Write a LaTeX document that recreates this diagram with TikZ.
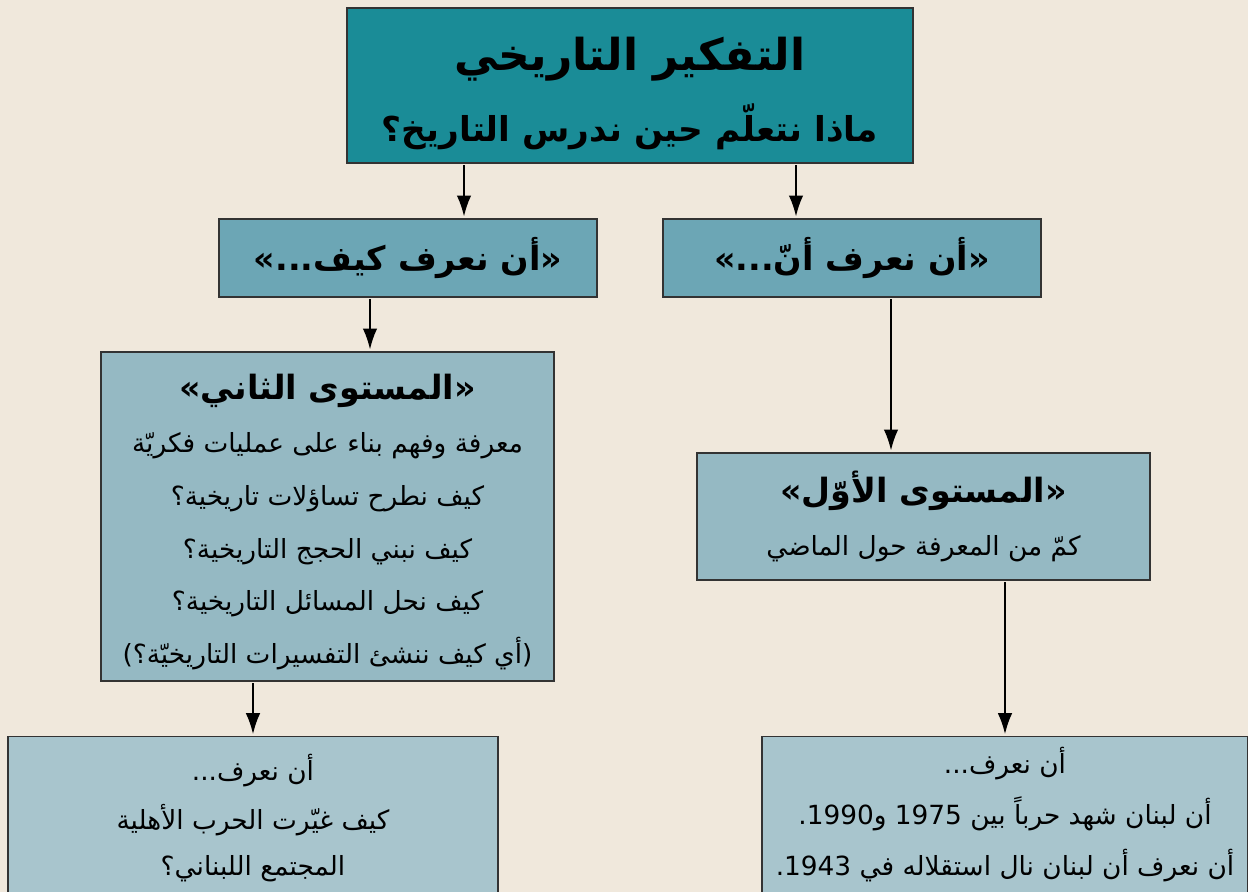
\documentclass[tikz,border=0pt]{standalone}
\usepackage{fontspec}
\newfontfamily\arabicfont[Script=Arabic]{DejaVu Sans}
\TeXXeTstate=1
\usetikzlibrary{arrows.meta}
\newcommand{\artxt}[1]{\beginR #1\endR}
\definecolor{bgpaper}{HTML}{F0E8DC}
\definecolor{tealtop}{HTML}{1A8C97}
\definecolor{bluemid}{HTML}{6CA6B5}
\definecolor{bluelow}{HTML}{95B9C3}
\definecolor{bluebase}{HTML}{A8C5CD}

\begin{document}
\begin{tikzpicture}[
    box/.style={draw=black!80, line width=0.8pt, align=center, inner sep=0pt},
    bodytext/.style={font=\arabicfont\fontsize{15}{30}\selectfont},
    arr/.style={-{Latex[length=4.2mm,width=2.9mm]}, line width=1.1pt, shorten <=1pt, shorten >=1pt},
]
    \clip (0,0) rectangle (24.96,-17.84);
    \fill[bgpaper] (0,0) rectangle (24.96,-17.84);

    % top of the chart
    \node[box, fill=tealtop, minimum width=11.32cm, minimum height=3.1cm,
          font=\arabicfont\bfseries\fontsize{25}{40}\selectfont] (top) at (12.6,-1.71)
        {\rule{0pt}{28pt}\artxt{التفكير التاريخي}\\[0pt]
         {\fontsize{19.5}{30}\selectfont\artxt{ماذا نتعلّم حين ندرس التاريخ؟}}};

    % second row
    \node[box, fill=bluemid, minimum width=7.56cm, minimum height=1.56cm,
          font=\arabicfont\bfseries\fontsize{19}{24}\selectfont] (lk) at (8.16,-5.16)
        {\artxt{«أن نعرف كيف...»}};
    \node[box, fill=bluemid, minimum width=7.56cm, minimum height=1.56cm,
          font=\arabicfont\bfseries\fontsize{19}{24}\selectfont] (rk) at (17.04,-5.16)
        {\artxt{«أن نعرف أنّ...»}};

    % the two levels
    \node[box, bodytext, fill=bluelow, minimum width=9.06cm, minimum height=6.58cm] (l2) at (6.55,-10.33)
        {{\bfseries\fontsize{19}{24}\selectfont\rule{0pt}{21pt}\artxt{«المستوى الثاني»}}\\
         \artxt{معرفة وفهم بناء على عمليات فكريّة}\\
         \artxt{كيف نطرح تساؤلات تاريخية؟}\\
         \artxt{كيف نبني الحجج التاريخية؟}\\
         \artxt{كيف نحل المسائل التاريخية؟}\\
         \artxt{(أي كيف ننشئ التفسيرات التاريخيّة؟)}};
    \node[box, bodytext, fill=bluelow, minimum width=9.06cm, minimum height=2.54cm] (r1) at (18.47,-10.33)
        {{\bfseries\fontsize{19}{24}\selectfont\artxt{«المستوى الأوّل»}}\\
         \artxt{كمّ من المعرفة حول الماضي}};

    % examples at the bottom
    \node[box, bodytext, fill=bluebase, minimum width=9.8cm, minimum height=3.24cm, anchor=north] (lb) at (5.06,-14.72)
        {\artxt{أن نعرف...}\\[-2pt]
         \artxt{كيف غيّرت الحرب الأهلية}\\[-4pt]
         \artxt{المجتمع اللبناني؟}};
    \node[box, bodytext, fill=bluebase, minimum width=9.72cm, minimum height=3.12cm, anchor=north] (rb) at (20.1,-14.72)
        {\artxt{أن نعرف...}\\[-1pt]
         \artxt{أن لبنان شهد حرباً بين 1975 و1990.}\\[-1pt]
         \artxt{أن نعرف أن لبنان نال استقلاله في 1943.}};

    \draw[arr] ([xshift=1.12cm]lk.north |- top.south) -- ([xshift=1.12cm]lk.north);
    \draw[arr] ([xshift=-1.12cm]rk.north |- top.south) -- ([xshift=-1.12cm]rk.north);
    \draw[arr] ([xshift=0.85cm]l2.north |- lk.south) -- ([xshift=0.85cm]l2.north);
    \draw[arr] ([xshift=-0.65cm]r1.north |- rk.south) -- ([xshift=-0.65cm]r1.north);
    \draw[arr] (l2.south -| lb.north) -- (lb.north);
    \draw[arr] (r1.south -| rb.north) -- (rb.north);
\end{tikzpicture}
\end{document}
